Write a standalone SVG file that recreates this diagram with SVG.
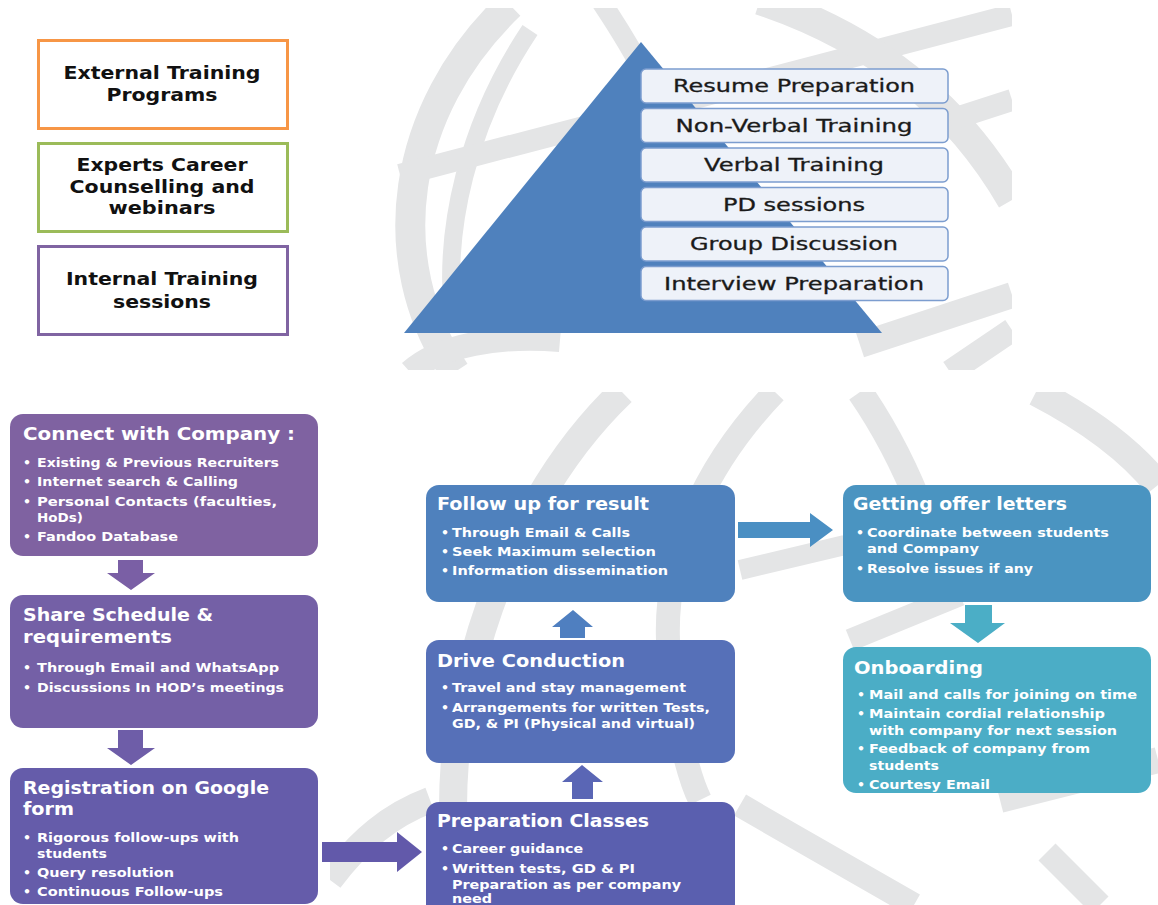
<svg xmlns="http://www.w3.org/2000/svg" width="1158" height="905" viewBox="0 0 1158 905">
<style>
.sw{fill:none;stroke:#E4E5E6;stroke-linecap:butt}
.tb{font-family:"DejaVu Sans",Verdana,sans-serif;font-weight:bold;font-size:17.5px;fill:#111;text-anchor:middle}
.pl{font-family:"DejaVu Sans",Verdana,sans-serif;font-size:17px;fill:#1a1a1a;stroke:#1a1a1a;stroke-width:0.3;text-anchor:middle}
.pb{fill:#EEF2F9;stroke:#7C9DCF;stroke-width:1.5}
.t{font-family:"DejaVu Sans",Verdana,sans-serif;font-weight:bold;font-size:17px;fill:#fff}
.b{font-family:"DejaVu Sans",Verdana,sans-serif;font-weight:bold;font-size:12.5px;fill:#fff}
</style>
<defs>
<clipPath id="ctop"><rect x="380" y="8" width="632" height="362"/></clipPath>
<clipPath id="cbot"><rect x="330" y="392" width="828" height="513"/></clipPath>
</defs>
<rect width="1158" height="905" fill="#fff"/>
<g id="background-top" clip-path="url(#ctop)">
<path class="sw" stroke-width="30" d="M455 372 C380 260 400 110 510 5"/>
<path class="sw" stroke-width="18" d="M455 330 C440 230 470 120 530 30"/>
<path class="sw" stroke-width="22" d="M400 175 L1012 15"/>
<path class="sw" stroke-width="30" d="M760 0 C880 40 960 110 1012 200"/>
<path class="sw" stroke-width="26" d="M860 345 L1012 295"/>
<path class="sw" stroke-width="24" d="M410 372 C440 345 500 335 560 340"/>
<path class="sw" stroke-width="24" d="M950 372 L1012 330"/>
<path class="sw" stroke-width="20" d="M600 0 C640 60 660 100 670 140"/>
<path class="sw" stroke-width="22" d="M950 120 L1012 100"/>
</g>
<g id="background-bottom" clip-path="url(#cbot)">
<path class="sw" stroke-width="28" d="M622 392 C530 480 470 620 455 760 C450 820 455 870 460 905"/>
<path class="sw" stroke-width="26" d="M330 880 C360 840 390 815 430 800"/>
<path class="sw" stroke-width="24" d="M775 392 C700 470 665 560 668 640 C672 720 690 780 700 800"/>
<path class="sw" stroke-width="26" d="M860 392 C900 450 930 520 950 600"/>
<path class="sw" stroke-width="28" d="M1036 392 C1090 420 1130 450 1158 485"/>
<path class="sw" stroke-width="22" d="M850 640 L960 595"/>
<path class="sw" stroke-width="24" d="M740 805 C800 840 870 880 914 905"/>
<path class="sw" stroke-width="24" d="M1047 852 L1100 905"/>
<path class="sw" stroke-width="26" d="M1000 800 L1158 760"/>
<path class="sw" stroke-width="20" d="M740 570 L845 545"/>
</g>

<g id="external-training">
<rect x="38.5" y="40.5" width="249" height="88" fill="#fff" stroke="#F79646" stroke-width="3"/>
<text class="tb" x="162" y="79" textLength="197" lengthAdjust="spacingAndGlyphs">External Training</text>
<text class="tb" x="162" y="101" textLength="111" lengthAdjust="spacingAndGlyphs">Programs</text>
</g>
<g id="experts-career">
<rect x="38.5" y="143.5" width="249" height="88" fill="#fff" stroke="#9BBB59" stroke-width="3"/>
<text class="tb" x="162" y="171" textLength="171" lengthAdjust="spacingAndGlyphs">Experts Career</text>
<text class="tb" x="162" y="193" textLength="185" lengthAdjust="spacingAndGlyphs">Counselling  and</text>
<text class="tb" x="162" y="214" textLength="107" lengthAdjust="spacingAndGlyphs">webinars</text>
</g>
<g id="internal-training">
<rect x="38.5" y="246.5" width="249" height="88" fill="#fff" stroke="#8064A2" stroke-width="3"/>
<text class="tb" x="162" y="285" textLength="192" lengthAdjust="spacingAndGlyphs">Internal  Training</text>
<text class="tb" x="162" y="308" textLength="98" lengthAdjust="spacingAndGlyphs">sessions</text>
</g>

<g id="pyramid">
<polygon points="641,42 404,333 882,333" fill="#4F81BD"/>
</g>
<g id="resume-preparation">
<rect class="pb" x="641" y="69" width="307" height="34" rx="5"/>
<text class="pl" x="794" y="92" textLength="242" lengthAdjust="spacingAndGlyphs">Resume Preparation</text>
</g>
<g id="non-verbal-training">
<rect class="pb" x="641" y="108.5" width="307" height="34" rx="5"/>
<text class="pl" x="794" y="131.5" textLength="237" lengthAdjust="spacingAndGlyphs">Non-Verbal Training</text>
</g>
<g id="verbal-training">
<rect class="pb" x="641" y="148" width="307" height="34" rx="5"/>
<text class="pl" x="794" y="171" textLength="180" lengthAdjust="spacingAndGlyphs">Verbal Training</text>
</g>
<g id="pd-sessions">
<rect class="pb" x="641" y="187.5" width="307" height="34" rx="5"/>
<text class="pl" x="794" y="210.5" textLength="142" lengthAdjust="spacingAndGlyphs">PD sessions</text>
</g>
<g id="group-discussion">
<rect class="pb" x="641" y="227" width="307" height="34" rx="5"/>
<text class="pl" x="794" y="250" textLength="208" lengthAdjust="spacingAndGlyphs">Group Discussion</text>
</g>
<g id="interview-preparation">
<rect class="pb" x="641" y="266.5" width="307" height="34" rx="5"/>
<text class="pl" x="794" y="289.5" textLength="260" lengthAdjust="spacingAndGlyphs">Interview Preparation</text>
</g>

<g id="connect-company">
<rect x="10" y="414" width="308" height="142" rx="13" fill="#7F62A1"/>
<text class="t" x="23" y="440" textLength="272" lengthAdjust="spacingAndGlyphs">Connect  with Company :</text>
<text class="b" y="467"><tspan x="23">•</tspan><tspan x="37" textLength="242" lengthAdjust="spacingAndGlyphs">Existing &amp; Previous Recruiters</tspan></text>
<text class="b" y="486"><tspan x="23">•</tspan><tspan x="37" textLength="201" lengthAdjust="spacingAndGlyphs">Internet search &amp; Calling</tspan></text>
<text class="b" y="506"><tspan x="23">•</tspan><tspan x="37" textLength="240" lengthAdjust="spacingAndGlyphs">Personal Contacts (faculties,</tspan></text>
<text class="b" y="522"><tspan x="37" textLength="46" lengthAdjust="spacingAndGlyphs">HoDs)</tspan></text>
<text class="b" y="541"><tspan x="23">•</tspan><tspan x="37" textLength="141" lengthAdjust="spacingAndGlyphs">Fandoo Database</tspan></text>
</g>
<g id="share-schedule">
<rect x="10" y="595" width="308" height="133" rx="13" fill="#7460A6"/>
<text class="t" x="23" y="621" textLength="190" lengthAdjust="spacingAndGlyphs">Share Schedule &amp;</text>
<text class="t" x="23" y="643" textLength="149" lengthAdjust="spacingAndGlyphs">requirements</text>
<text class="b" y="672"><tspan x="23">•</tspan><tspan x="37" textLength="242" lengthAdjust="spacingAndGlyphs">Through Email and WhatsApp</tspan></text>
<text class="b" y="692"><tspan x="23">•</tspan><tspan x="37" textLength="247" lengthAdjust="spacingAndGlyphs">Discussions In HOD’s meetings</tspan></text>
</g>
<g id="registration">
<rect x="10" y="768" width="308" height="136" rx="13" fill="#655CAA"/>
<text class="t" x="23" y="794" textLength="246" lengthAdjust="spacingAndGlyphs">Registration on Google</text>
<text class="t" x="23" y="815" textLength="51" lengthAdjust="spacingAndGlyphs">form</text>
<text class="b" y="842"><tspan x="23">•</tspan><tspan x="37" textLength="202" lengthAdjust="spacingAndGlyphs">Rigorous follow-ups with</tspan></text>
<text class="b" y="858"><tspan x="37" textLength="70" lengthAdjust="spacingAndGlyphs">students</tspan></text>
<text class="b" y="877"><tspan x="23">•</tspan><tspan x="37" textLength="137" lengthAdjust="spacingAndGlyphs">Query resolution</tspan></text>
<text class="b" y="896"><tspan x="23">•</tspan><tspan x="37" textLength="186" lengthAdjust="spacingAndGlyphs">Continuous Follow-ups</tspan></text>
</g>
<g id="follow-up">
<rect x="426" y="485" width="309" height="117" rx="13" fill="#4F81BD"/>
<text class="t" x="437" y="510" textLength="212" lengthAdjust="spacingAndGlyphs">Follow up for result</text>
<text class="b" y="537"><tspan x="441">•</tspan><tspan x="452" textLength="178" lengthAdjust="spacingAndGlyphs">Through Email &amp; Calls</tspan></text>
<text class="b" y="556"><tspan x="441">•</tspan><tspan x="452" textLength="204" lengthAdjust="spacingAndGlyphs">Seek Maximum selection</tspan></text>
<text class="b" y="575"><tspan x="441">•</tspan><tspan x="452" textLength="216" lengthAdjust="spacingAndGlyphs">Information dissemination</tspan></text>
</g>
<g id="drive-conduction">
<rect x="426" y="640" width="309" height="123" rx="13" fill="#5670B8"/>
<text class="t" x="437" y="667" textLength="188" lengthAdjust="spacingAndGlyphs">Drive Conduction</text>
<text class="b" y="692"><tspan x="441">•</tspan><tspan x="452" textLength="234" lengthAdjust="spacingAndGlyphs">Travel and stay management</tspan></text>
<text class="b" y="712"><tspan x="441">•</tspan><tspan x="452" textLength="258" lengthAdjust="spacingAndGlyphs">Arrangements for written Tests,</tspan></text>
<text class="b" y="728"><tspan x="452" textLength="243" lengthAdjust="spacingAndGlyphs">GD, &amp; PI (Physical and virtual)</tspan></text>
</g>
<g id="preparation-classes">
<rect x="426" y="802" width="309" height="120" rx="13" fill="#5A5FAF"/>
<text class="t" x="437" y="827" textLength="212" lengthAdjust="spacingAndGlyphs">Preparation Classes</text>
<text class="b" y="853"><tspan x="441">•</tspan><tspan x="452" textLength="131" lengthAdjust="spacingAndGlyphs">Career guidance</tspan></text>
<text class="b" y="873"><tspan x="441">•</tspan><tspan x="452" textLength="183" lengthAdjust="spacingAndGlyphs">Written tests, GD &amp; PI</tspan></text>
<text class="b" y="889"><tspan x="452" textLength="229" lengthAdjust="spacingAndGlyphs">Preparation as per company</tspan></text>
<text class="b" y="903"><tspan x="452" textLength="40" lengthAdjust="spacingAndGlyphs">need</tspan></text>
</g>
<g id="getting-offer">
<rect x="843" y="485" width="308" height="117" rx="13" fill="#4A94C1"/>
<text class="t" x="853" y="510" textLength="214" lengthAdjust="spacingAndGlyphs">Getting offer letters</text>
<text class="b" y="537"><tspan x="856">•</tspan><tspan x="867" textLength="242" lengthAdjust="spacingAndGlyphs">Coordinate between students</tspan></text>
<text class="b" y="553"><tspan x="867" textLength="112" lengthAdjust="spacingAndGlyphs">and Company</tspan></text>
<text class="b" y="573"><tspan x="856">•</tspan><tspan x="867" textLength="166" lengthAdjust="spacingAndGlyphs">Resolve issues if any</tspan></text>
</g>
<g id="onboarding">
<rect x="843" y="647" width="308" height="146" rx="13" fill="#4BADC6"/>
<text class="t" x="854" y="674" textLength="129" lengthAdjust="spacingAndGlyphs">Onboarding</text>
<text class="b" y="699"><tspan x="857">•</tspan><tspan x="869" textLength="268" lengthAdjust="spacingAndGlyphs">Mail and calls for joining on time</tspan></text>
<text class="b" y="718"><tspan x="857">•</tspan><tspan x="869" textLength="236" lengthAdjust="spacingAndGlyphs">Maintain cordial relationship</tspan></text>
<text class="b" y="735"><tspan x="869" textLength="248" lengthAdjust="spacingAndGlyphs">with company for next session</tspan></text>
<text class="b" y="753"><tspan x="857">•</tspan><tspan x="869" textLength="221" lengthAdjust="spacingAndGlyphs">Feedback of company from</tspan></text>
<text class="b" y="770"><tspan x="869" textLength="70" lengthAdjust="spacingAndGlyphs">students</tspan></text>
<text class="b" y="789"><tspan x="857">•</tspan><tspan x="869" textLength="121" lengthAdjust="spacingAndGlyphs">Courtesy Email</tspan></text>
</g>

<g id="connectors">
<polygon points="118,560 143,560 143,573 155,573 131,590 107,573 118,573" fill="#7A5FA5"/>
<polygon points="118,730 143,730 143,748 155,748 131,765 107,748 118,748" fill="#6E5DA8"/>
<polygon points="322,842 397,842 397,832 422,852 397,872 397,862 322,862" fill="#6259AA"/>
<polygon points="573,610 593,627 585,627 585,638 560,638 560,627 552,627" fill="#4F7FC0"/>
<polygon points="582,765 603,782 593,782 593,799 572,799 572,782 562,782" fill="#5A66B5"/>
<polygon points="738,522 810,522 810,513 833,530 810,547 810,538 738,538" fill="#4A8FC3"/>
<polygon points="965,605 992,605 992,623 1005,623 978,643 950,623 965,623" fill="#4BAEC6"/>
</g>
</svg>
